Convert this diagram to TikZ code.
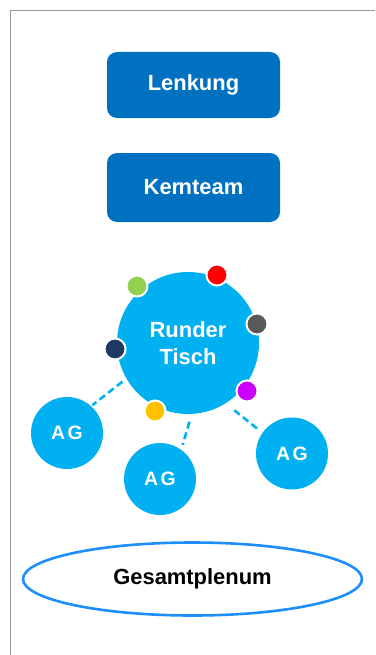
\documentclass[tikz,border=0pt]{standalone}
\usepackage{fontspec}
\setmainfont{Liberation Sans}
\usetikzlibrary{shapes.geometric}
\definecolor{darkblue}{HTML}{0070C0}
\definecolor{skyblue}{HTML}{00B0F0}
\definecolor{rimblue}{HTML}{1E8FFA}
\definecolor{framegray}{HTML}{9A9A9A}
\definecolor{dotgreen}{HTML}{92D050}
\definecolor{dotred}{HTML}{FF0000}
\definecolor{dotgray}{HTML}{595959}
\definecolor{dotnavy}{HTML}{1F3864}
\definecolor{dotpurple}{HTML}{CC00FF}
\definecolor{dotyellow}{HTML}{FFC000}
\tikzset{
  lbl/.style={font=\fontsize{22}{27}\selectfont\bfseries},
  panel/.style={lbl, rectangle, rounded corners=10bp, fill=darkblue, text=white,
    minimum width=173bp, inner sep=0pt},
  bigcircle/.style={lbl, circle, fill=skyblue, text=white, minimum size=142bp,
    inner sep=0pt, align=center},
  agcircle/.style={circle, fill=skyblue, text=white, minimum size=72bp, inner sep=0pt,
    font=\fontsize{19.5}{24}\selectfont\bfseries},
  member/.style={circle, fill=#1, draw=white, line width=2bp, minimum size=21bp, inner sep=0pt},
  link/.style={skyblue, line width=2.6bp, dash pattern=on 7bp off 4bp},
  plenum/.style={lbl, ellipse, draw=rimblue, line width=2.6bp, fill=white, text=black,
    minimum width=339bp, minimum height=73bp, inner sep=0pt}
}
\newcommand{\agtext}{A\kern2.5bp G}
\begin{document}
\begin{tikzpicture}[x=1bp, y=-1bp]
\useasboundingbox (0,0) rectangle (375,655);
% page frame
\draw[framegray, line width=1bp] (375,11) -- (10,11) -- (10,655);

% steering and core team
\node[panel, minimum height=66bp] (lenkung) at (193.5,85) {Lenkung};
\node[panel, minimum height=69bp] (kernteam) at (193.5,187.5) {Ker\kern-1.5bp nteam};

% round table and working groups
\node[bigcircle] (tisch) at (188,343) {Runder\\Tisch};
\node[agcircle] (ag1) at (67,433) {\agtext};
\node[agcircle] (ag2) at (160,479) {\agtext};
\node[agcircle] (ag3) at (292,453.5) {\agtext};

\draw[link, shorten <=5bp, shorten >=1.5bp] (tisch.210.5) -- (ag1.48.8);
\draw[link, shorten <=8bp, shorten >=5bp] (tisch.273.5) -- (ag2.54);
\draw[link, shorten <=11bp, shorten >=4.5bp] (tisch.302.7) -- (ag3.145.7);

% members around the table
\node[member=dotgreen] (m1) at (137,286) {};
\node[member=dotred] (m2) at (217,275) {};
\node[member=dotgray] (m3) at (257,324) {};
\node[member=dotnavy] (m4) at (115,349) {};
\node[member=dotpurple] (m5) at (247,391) {};
\node[member=dotyellow] (m6) at (155,411) {};

% plenary
\node[plenum] (plenum) at (192.5,579) {Gesamtplenum};
\end{tikzpicture}
\end{document}
